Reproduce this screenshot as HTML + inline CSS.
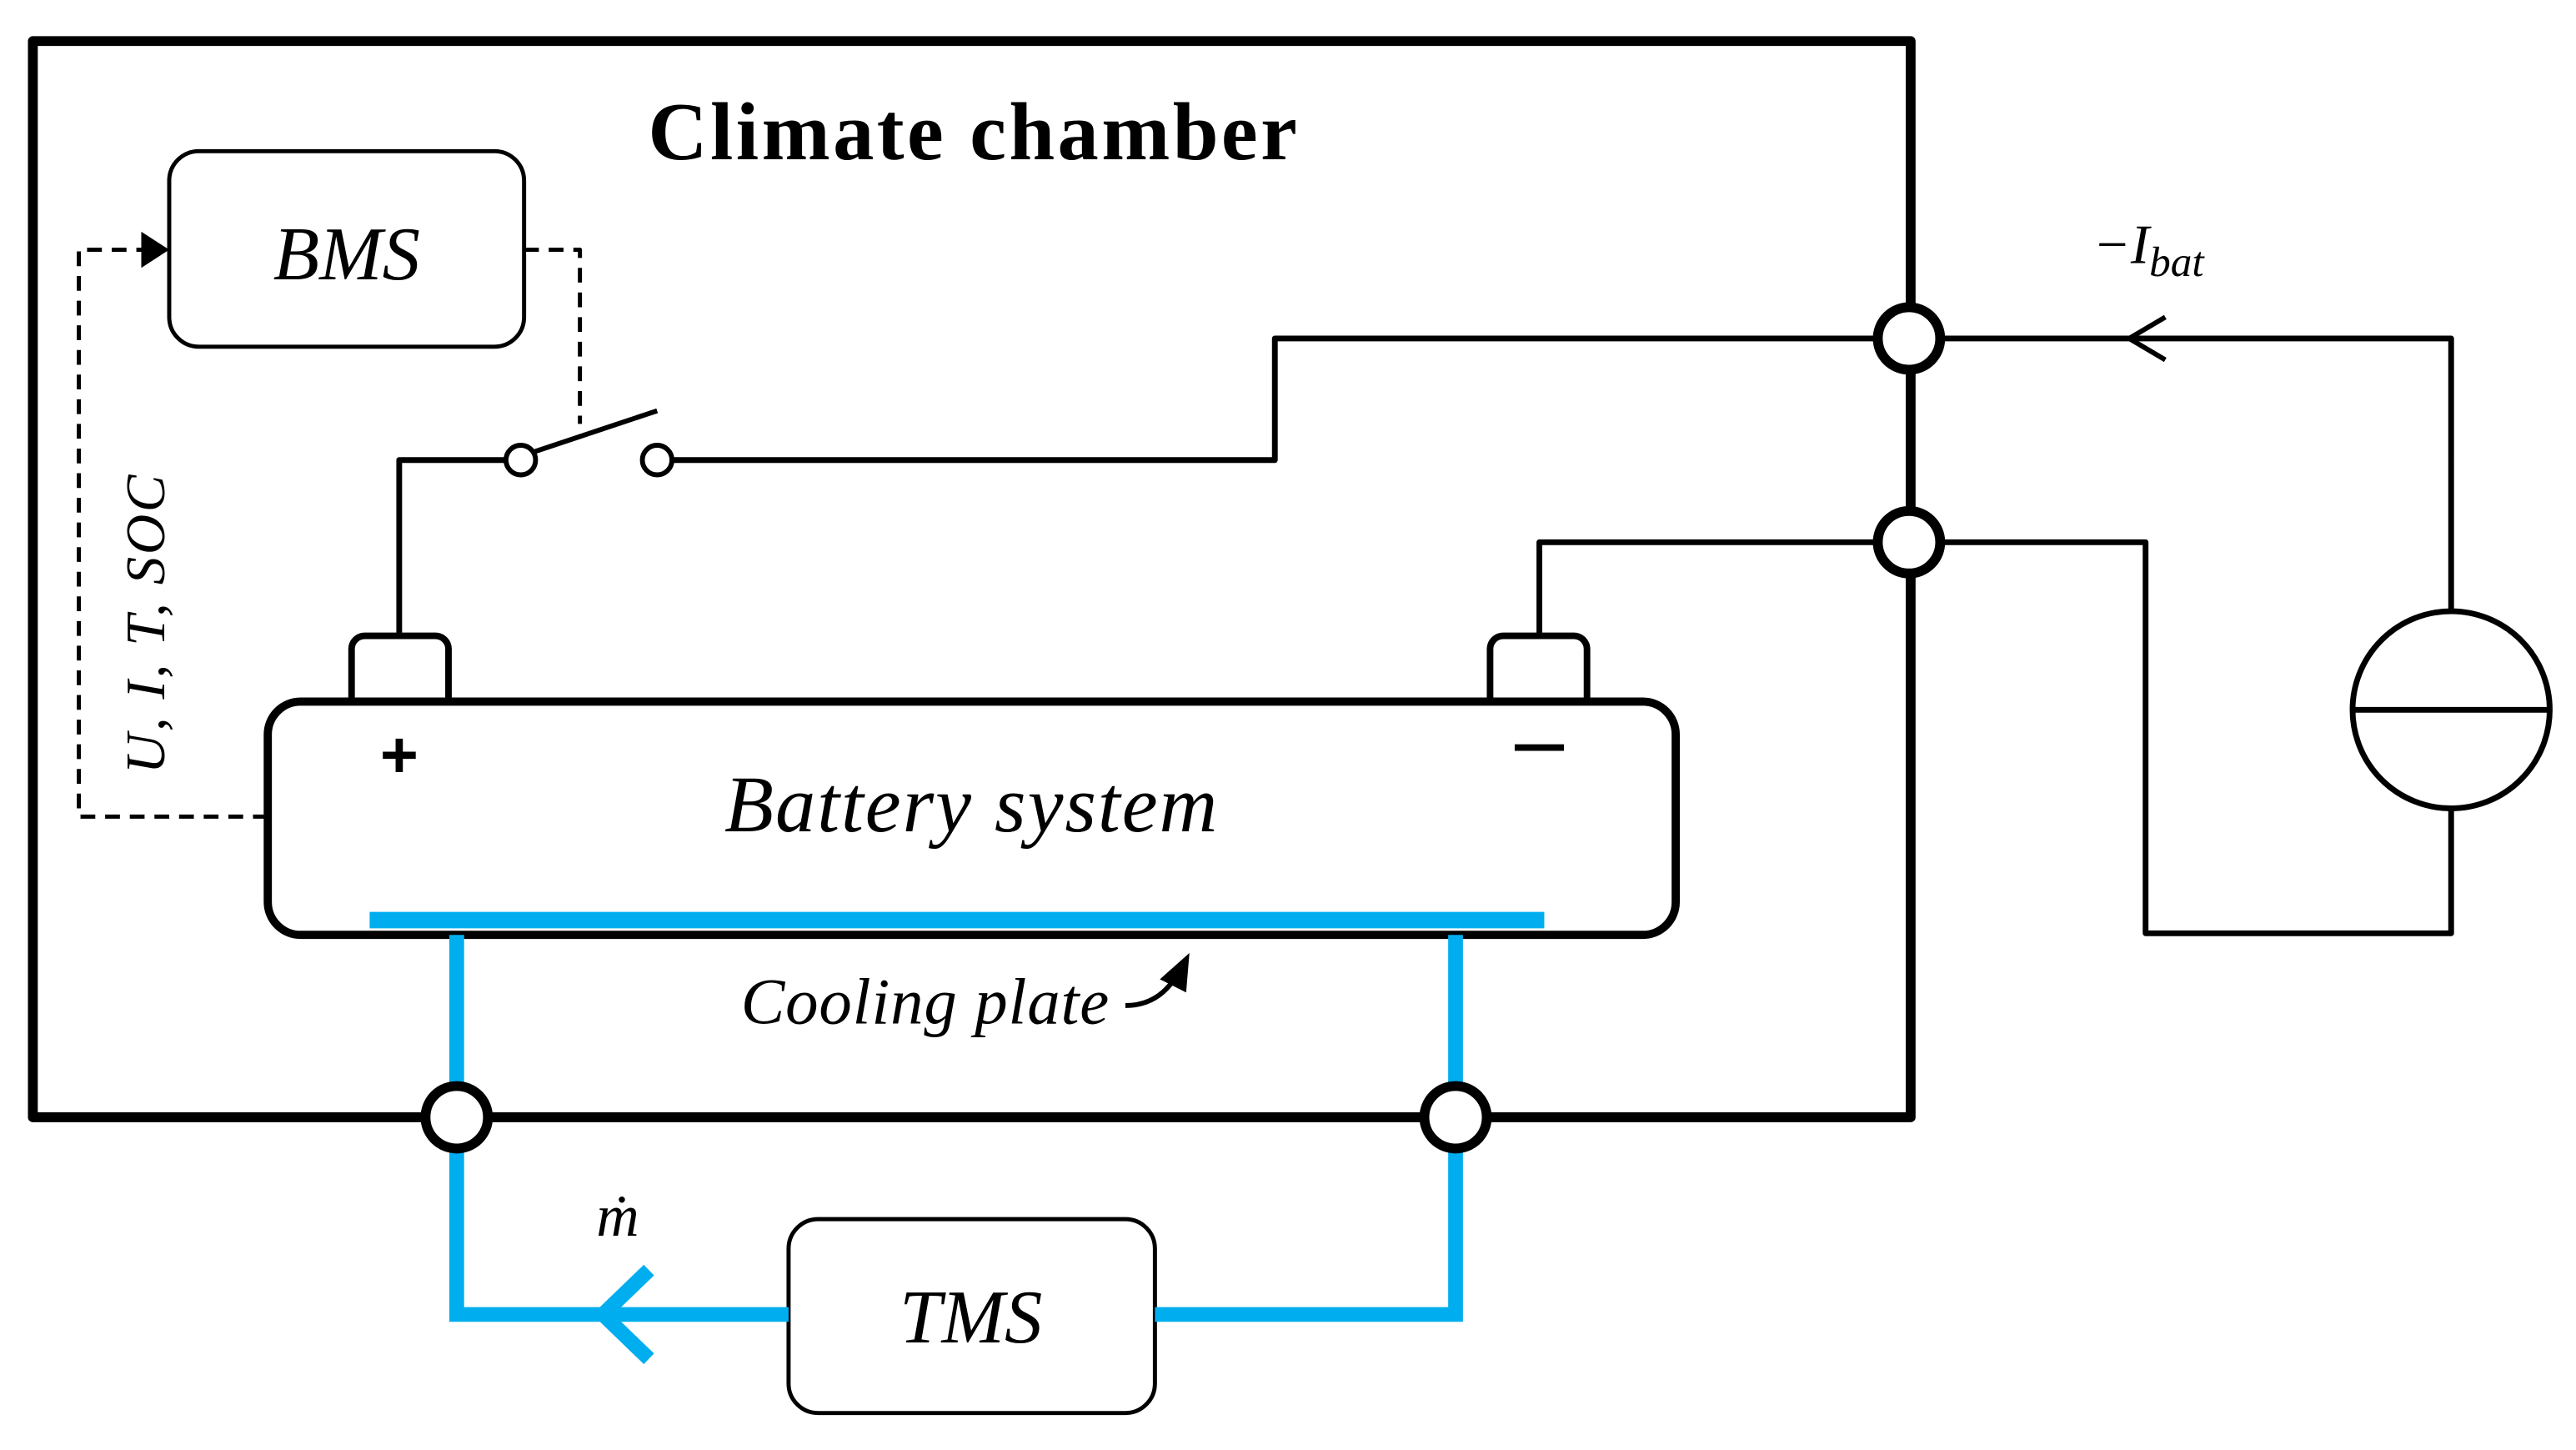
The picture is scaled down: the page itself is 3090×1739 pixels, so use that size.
<!DOCTYPE html>
<html><head><meta charset="utf-8"><style>
html,body{margin:0;padding:0;background:#fff;}
svg{display:block;}
.t{font-family:"Liberation Serif",serif;font-style:italic;fill:#000;}
</style></head><body>
<svg width="3090" height="1739" viewBox="0 0 1568 882.5" preserveAspectRatio="none" xmlns="http://www.w3.org/2000/svg">
<g fill="none" stroke="#000" stroke-linejoin="round">
 <rect x="20" y="25" width="1143" height="655" stroke-width="6"/>
 <path d="M319 152 H353 V258" stroke-width="2.5" stroke-dasharray="9,6"/>
 <path d="M163 497 H48 V152 H86" stroke-width="2.5" stroke-dasharray="9,6"/>
 <path d="M243 387 V280 H308" stroke-width="3.5"/>
 <path d="M409 280 H776 V206 H1492 V372" stroke-width="3.5"/>
 <path d="M937 387 V330 H1306 V568 H1492 V492" stroke-width="3.5"/>
 <line x1="325" y1="275" x2="400" y2="250" stroke-width="3"/>
 <path d="M1318 193 L1296 206 L1318 219" stroke-width="3"/>
 <circle cx="1492" cy="432" r="60" stroke-width="3.5" fill="#fff"/>
 <line x1="1432" y1="432" x2="1552" y2="432" stroke-width="3.5"/>
 <rect x="103" y="92" width="216" height="119" rx="18" stroke-width="2.5" fill="#fff"/>
 <rect x="480" y="742" width="223" height="118" rx="18" stroke-width="2.5" fill="#fff"/>
 <rect x="214" y="387" width="59" height="50" rx="8" stroke-width="4" fill="#fff"/>
 <rect x="907" y="387" width="59" height="50" rx="8" stroke-width="4" fill="#fff"/>
 <rect x="163" y="427" width="857" height="142" rx="20" stroke-width="5" fill="#fff"/>
</g>
<polygon points="86,141 103,152 86,163" fill="#000"/>
<circle cx="317" cy="280" r="9" fill="#fff" stroke="#000" stroke-width="3"/>
<circle cx="400" cy="280" r="9" fill="#fff" stroke="#000" stroke-width="3"/>
<g fill="none" stroke="#00AEEF" stroke-width="9">
 <line x1="225" y1="560" x2="940" y2="560" stroke-width="10"/>
 <path d="M278 569 V800 H480"/>
 <path d="M886 569 V800 H703"/>
 <path d="M395 773 L367 800 L395 827"/>
</g>
<g fill="#fff" stroke="#000" stroke-width="6">
 <circle cx="1162" cy="206" r="19"/>
 <circle cx="1162" cy="330" r="19"/>
 <circle cx="278" cy="680" r="19"/>
 <circle cx="886" cy="680" r="19"/>
</g>
<path d="M685 612 Q705 612 716 594" fill="none" stroke="#000" stroke-width="3"/>
<polygon points="724,580 722,604 706,596" fill="#000"/>
<text x="592" y="97" text-anchor="middle" font-family="Liberation Serif,serif" font-weight="bold" font-size="50" textLength="395">Climate chamber</text>
<text class="t" x="211" y="170" text-anchor="middle" font-size="46">BMS</text>
<text class="t" x="591" y="817" text-anchor="middle" font-size="46">TMS</text>
<text class="t" x="591" y="506" text-anchor="middle" font-size="49" textLength="300">Battery system</text>
<text class="t" x="563" y="623" text-anchor="middle" font-size="40" textLength="224">Cooling plate</text>
<text class="t" x="376" y="752" text-anchor="middle" font-size="36">ṁ</text>
<text class="t" x="1274" y="160" font-size="34">−I<tspan font-size="26" dy="8">bat</tspan></text>
<text class="t" transform="translate(100,380) rotate(-90)" text-anchor="middle" font-size="34" textLength="182">U, I, T, SOC</text>
<text x="243" y="473" text-anchor="middle" font-family="Liberation Sans,sans-serif" font-weight="bold" font-size="40">+</text>
<line x1="922" y1="455" x2="952" y2="455" stroke="#000" stroke-width="4"/>
</svg>
</body></html>
